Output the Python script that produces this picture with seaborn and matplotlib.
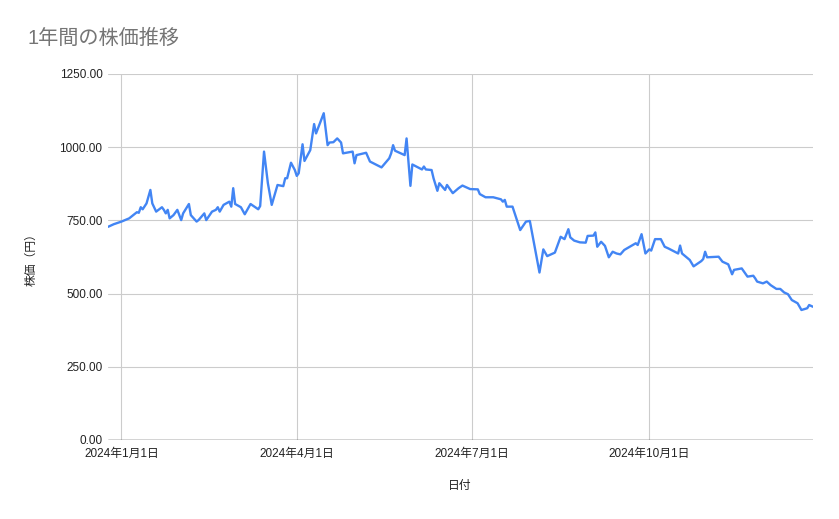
import matplotlib
matplotlib.use("Agg")
import matplotlib.pyplot as plt
import pandas as pd
import seaborn as sns

# values
dates = [
    "2023-12-25", "2023-12-28", "2024-01-01", "2024-01-05", "2024-01-09", "2024-01-10",
    "2024-01-11", "2024-01-12", "2024-01-14", "2024-01-16", "2024-01-17", "2024-01-19",
    "2024-01-22", "2024-01-23", "2024-01-24", "2024-01-25", "2024-01-26", "2024-01-28",
    "2024-01-30", "2024-02-01", "2024-02-02", "2024-02-05", "2024-02-06", "2024-02-09",
    "2024-02-10", "2024-02-13", "2024-02-14", "2024-02-17", "2024-02-19", "2024-02-20",
    "2024-02-21", "2024-02-23", "2024-02-26", "2024-02-27", "2024-02-28", "2024-02-29",
    "2024-03-03", "2024-03-05", "2024-03-08", "2024-03-12", "2024-03-13", "2024-03-15",
    "2024-03-17", "2024-03-19", "2024-03-22", "2024-03-25", "2024-03-26", "2024-03-27",
    "2024-03-29", "2024-03-31", "2024-04-01", "2024-04-02", "2024-04-04", "2024-04-05",
    "2024-04-08", "2024-04-10", "2024-04-11", "2024-04-15", "2024-04-17", "2024-04-18",
    "2024-04-20", "2024-04-22", "2024-04-24", "2024-04-25", "2024-04-30", "2024-05-01",
    "2024-05-02", "2024-05-07", "2024-05-09", "2024-05-15", "2024-05-19", "2024-05-20",
    "2024-05-21", "2024-05-22", "2024-05-27", "2024-05-28", "2024-05-30", "2024-05-31",
    "2024-06-05", "2024-06-06", "2024-06-07", "2024-06-10", "2024-06-11", "2024-06-13",
    "2024-06-14", "2024-06-17", "2024-06-18", "2024-06-21", "2024-06-24", "2024-06-26",
    "2024-06-30", "2024-07-04", "2024-07-05", "2024-07-08", "2024-07-12", "2024-07-16",
    "2024-07-17", "2024-07-18", "2024-07-19", "2024-07-22", "2024-07-26", "2024-07-29",
    "2024-07-31", "2024-08-05", "2024-08-07", "2024-08-09", "2024-08-13", "2024-08-16",
    "2024-08-18", "2024-08-20", "2024-08-21", "2024-08-23", "2024-08-26", "2024-08-29",
    "2024-08-30", "2024-09-02", "2024-09-03", "2024-09-04", "2024-09-06", "2024-09-08",
    "2024-09-10", "2024-09-12", "2024-09-14", "2024-09-16", "2024-09-18", "2024-09-24",
    "2024-09-25", "2024-09-27", "2024-09-29", "2024-10-01", "2024-10-02", "2024-10-04",
    "2024-10-07", "2024-10-09", "2024-10-11", "2024-10-16", "2024-10-17", "2024-10-18",
    "2024-10-22", "2024-10-24", "2024-10-28", "2024-10-29", "2024-10-30", "2024-10-31",
    "2024-11-06", "2024-11-08", "2024-11-11", "2024-11-13", "2024-11-14", "2024-11-18",
    "2024-11-21", "2024-11-24", "2024-11-25", "2024-11-26", "2024-11-29", "2024-12-01",
    "2024-12-03", "2024-12-06", "2024-12-08", "2024-12-10", "2024-12-11", "2024-12-12",
    "2024-12-14", "2024-12-17", "2024-12-19", "2024-12-22", "2024-12-23", "2024-12-25",
]
prices = [
    728, 737, 746, 757, 778, 776,
    795, 788, 808, 854, 808, 780,
    795, 786, 774, 786, 757, 768,
    786, 751, 774, 806, 768, 746,
    751, 774, 751, 780, 786, 795,
    780, 803, 814, 797, 860, 806,
    795, 771, 806, 788, 799, 985,
    877, 803, 871, 867, 894, 894,
    947, 922, 902, 911, 1010, 953,
    990, 1079, 1047, 1116, 1007, 1016,
    1017, 1030, 1016, 979, 985, 945,
    973, 981, 951, 931, 962, 979,
    1007, 988, 973, 1030, 868, 941,
    924, 934, 924, 922, 894, 851,
    877, 854, 871, 843, 860, 869,
    857, 856, 840, 829, 829, 822,
    814, 820, 797, 797, 717, 746,
    748, 572, 651, 628, 640, 694,
    686, 720, 692, 681, 675, 674,
    697, 698, 709, 660, 677, 663,
    624, 643, 637, 634, 649, 672,
    666, 703, 637, 651, 647, 686,
    686, 660, 654, 637, 664, 637,
    615, 593, 611, 618, 643, 624,
    626, 609, 600, 566, 581, 586,
    558, 561, 552, 541, 535, 541,
    529, 516, 516, 504, 501, 498,
    478, 467, 444, 450, 461, 455,
]

tick_dates = ["2024-01-01", "2024-04-01", "2024-07-01", "2024-10-01"]
tick_labels = ["2024年1月1日", "2024年4月1日", "2024年7月1日", "2024年10月1日"]
y_ticks = [0, 250, 500, 750, 1000, 1250]

df = pd.DataFrame({"date": pd.to_datetime(dates), "price": prices})

sns.set_style("white")
plt.rcParams["font.family"] = ["Liberation Sans", "Noto Sans CJK JP", "DejaVu Sans"]

fig = plt.figure(figsize=(8.39, 5.19), dpi=100)
ax = fig.add_axes([108 / 839, 1 - 440 / 519, 705 / 839, 366 / 519])

sns.lineplot(data=df, x="date", y="price", ax=ax, color="#4285F4", linewidth=1.7)

ax.set_xlim(df["date"].min(), df["date"].max())
ax.set_ylim(0, 1250)
ax.set_yticks(y_ticks)
ax.set_yticklabels([f"{v:.2f}" for v in y_ticks])
ax.set_xticks(pd.to_datetime(tick_dates))
ax.set_xticklabels(tick_labels)

ax.grid(True, color="#cccccc", linewidth=0.8)
ax.axhline(0, color="#333333", linewidth=1.0, zorder=3)
for side in ax.spines.values():
    side.set_visible(False)
ax.tick_params(axis="both", length=0, labelsize=8.5, labelcolor="#222222")
ax.tick_params(axis="y", pad=4)
ax.tick_params(axis="x", pad=6)
ax.set_xlabel("")
ax.set_ylabel("")

fig.text(27 / 839, 1 - 38 / 519, "1年間の株価推移", fontsize=14.5, color="#757575",
         ha="left", va="center")
fig.text(32 / 839, 1 - 257 / 519, "株価（円）", fontsize=8.5, color="#222222",
         rotation=90, ha="center", va="center")
fig.text(460 / 839, 1 - 486 / 519, "日付", fontsize=8.5, color="#222222",
         ha="center", va="center")

fig.savefig("out.png", dpi=100)
